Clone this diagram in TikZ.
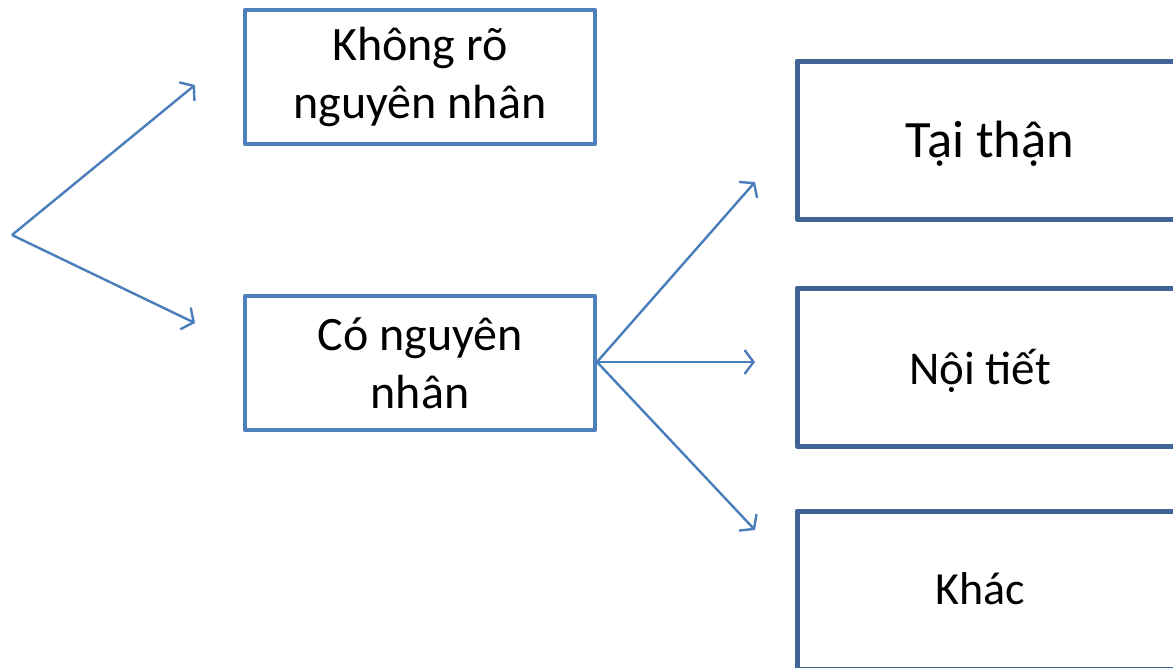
\documentclass[tikz,border=0pt]{standalone}
\usepackage{fontspec}
\setmainfont{Carlito}
\usetikzlibrary{arrows.meta}
\definecolor{lbox}{HTML}{4F81BD}
\definecolor{rbox}{HTML}{3E6495}
\definecolor{arr}{HTML}{4A7EBB}
\tikzset{
  leftbox/.style={draw=lbox, line width=4.5pt, line join=round, minimum width=350pt, minimum height=134pt, inner sep=0pt, align=center, font=\fontsize{48}{58}\selectfont},
  rightbox/.style={draw=rbox, line width=5pt, line join=round, minimum width=390pt, minimum height=158pt, inner sep=0pt},
  rlabel/.style={inner sep=0pt, anchor=base},
  conn/.style={draw=arr, line width=2.4pt, -{Straight Barb[length=9pt,width=24pt,line width=2.4pt]}}
}
\begin{document}
\begin{tikzpicture}[x=1pt,y=-1pt]
\useasboundingbox (0,0) rectangle (1173,667);
\clip (0,0) rectangle (1173,667);
\fill[white] (0,0) rectangle (1173,667);
\node[leftbox] (kr) at (420,77) {Không rõ\\nguyên nhân};
\node[leftbox] (cn) at (420,363) {Có nguyên\\nhân};
\node[rightbox] (b1) at (992,140) {};
\node[rightbox] (b2) at (992,367) {};
\node[rightbox] (b3) at (992,590) {};
\node[rlabel, font=\fontsize{52.5}{60}\selectfont] (t1) at (990,157) {Tại thận};
\node[rlabel, font=\fontsize{47}{56}\selectfont] (t2) at (980,384) {Nội tiết};
\node[rlabel, font=\fontsize{46}{56}\selectfont] (t3) at (980,604) {Khác};
\coordinate (src) at (12,235);
\coordinate (e1) at (195,85);
\coordinate (e2) at (195,323);
\coordinate (f1) at (755,182);
\coordinate (f2) at (755,362);
\coordinate (f3) at (755,530);
\coordinate (cs) at (597,362);
\draw[conn] (src) -- (e1);
\draw[conn] (src) -- (e2);
\draw[conn] (cs) -- (f1);
\draw[conn] (cs) -- (f2);
\draw[conn] (cs) -- (f3);
\end{tikzpicture}
\end{document}
